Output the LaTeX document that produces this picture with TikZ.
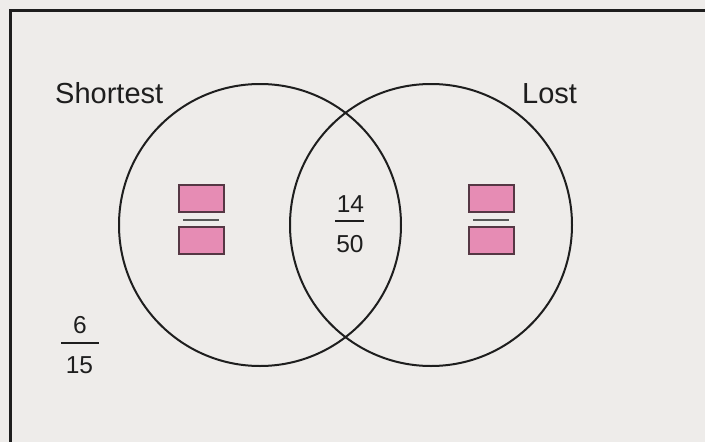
\documentclass[tikz,border=0pt]{standalone}
\usepackage{fontspec}
\setmainfont{Liberation Sans}
\definecolor{bg}{RGB}{238,236,234}
\definecolor{ink}{RGB}{30,30,30}
\definecolor{pinkfill}{RGB}{230,140,180}
\definecolor{pinkedge}{RGB}{85,55,68}
\begin{document}
\begin{tikzpicture}[x=1pt,y=-1pt,
  setcircle/.style={circle,draw=ink,line width=2pt,minimum size=282pt,inner sep=0pt},
  label/.style={font=\fontsize{29}{34}\selectfont,text=ink,inner sep=0pt,anchor=base west},
  num/.style={font=\fontsize{24.5}{29}\selectfont,text=ink,inner sep=0pt,anchor=base},
  pinkbox/.style={draw=pinkedge,line width=2pt,fill=pinkfill,minimum width=45pt,minimum height=27pt,inner sep=0pt},
  barline/.style={draw=ink!75,line width=1.8pt},
  ansline/.style={draw=ink,line width=2pt}]
\fill[bg] (0,0) rectangle (705,442);
\useasboundingbox (0,0) rectangle (705,442);
\draw[ink,line width=3pt] (720,10) -- (10,10) -- (10,460);
% circles
\node[setcircle] (shortest) at (260,225) {};
\node[setcircle] (lost) at (431,225) {};
% labels
\node[label] (lshort) at (55,103) {Shortest};
\node[label] (llost) at (522,103) {Lost};
% left pink boxes
\node[pinkbox] (lt) at (201,198.5) {};
\node[pinkbox] (lb) at (201,240) {};
\draw[barline] (183,220) -- (219,220);
% right pink boxes
\node[pinkbox] (rt) at (491,198.5) {};
\node[pinkbox] (rb) at (491,240) {};
\draw[barline] (473,220) -- (509,220);
% intersection fraction
\node[num] (n14) at (350.5,212) {14};
\node[num] (n50) at (350,252) {50};
\draw[ansline] (335,221) -- (364,221);
% outside fraction
\node[num] (n6) at (80,333) {6};
\node[num] (n15) at (79.5,373) {15};
\draw[ansline] (61,343) -- (99,343);
\end{tikzpicture}
\end{document}
